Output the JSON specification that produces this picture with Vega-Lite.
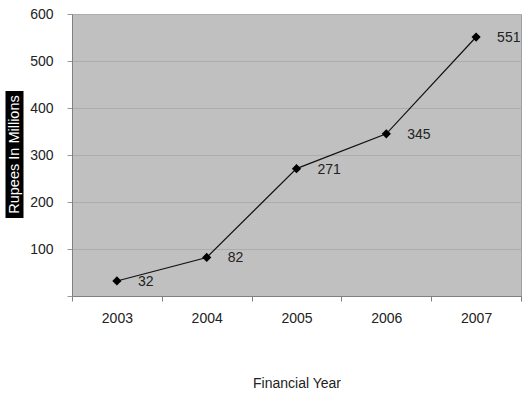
{
  "$schema": "https://vega.github.io/schema/vega-lite/v6.json",
  "width": 449,
  "height": 282,
  "autosize": "none",
  "padding": {"left": 72, "top": 14, "right": 2, "bottom": 101},
  "background": "white",
  "config": {
    "font": "Liberation Sans",
    "view": {"fill": "#c0c0c0", "stroke": "#a0a0a0", "strokeWidth": 1}
  },
  "data": {
    "values": [
      {"year": "2003", "value": 32},
      {"year": "2004", "value": 82},
      {"year": "2005", "value": 271},
      {"year": "2006", "value": 345},
      {"year": "2007", "value": 551}
    ]
  },
  "encoding": {
    "x": {
      "field": "year",
      "type": "ordinal",
      "scale": {"type": "band", "paddingInner": 0, "paddingOuter": 0},
      "axis": {
        "title": "Financial Year",
        "labelAngle": 0,
        "domainColor": "#808080",
        "tickColor": "#808080",
        "tickSize": 5,
        "tickBand": "extent",
        "labelPadding": 10,
        "labelFont": "Liberation Sans",
        "labelFontSize": 14,
        "labelColor": "#222222",
        "titleFont": "Liberation Sans",
        "titleFontSize": 14,
        "titleFontWeight": "normal",
        "titleColor": "#222222",
        "titleY": 87,
        "titleBaseline": "middle",
        "grid": false,
        "encode": {
          "ticks": {
            "update": {
              "opacity": {"signal": "(datum.value === '2005' || datum.value === '2007') && !datum.extra ? 1 : 0"}
            }
          }
        }
      }
    }
  },
  "layer": [
    {
      "mark": {"type": "line", "color": "#111111", "strokeWidth": 1.2},
      "encoding": {
        "y": {
          "field": "value",
          "type": "quantitative",
          "scale": {"domain": [0, 600], "nice": false},
          "axis": {
            "title": null,
            "values": [0, 100, 200, 300, 400, 500, 600],
            "labelExpr": "datum.value == 0 ? '' : datum.label",
            "domainColor": "#808080",
            "tickColor": "#9a9a9a",
            "tickSize": 5,
            "labelPadding": 14,
            "labelFont": "Liberation Sans",
            "labelFontSize": 14,
            "labelColor": "#222222",
            "grid": true,
            "gridColor": "#acacac",
            "zindex": 0,
            "encode": {
              "grid": {
                "update": {
                  "stroke": {"signal": "datum.value == 500 ? '#7a7a7a' : '#acacac'"}
                }
              },
              "ticks": {
                "update": {
                  "stroke": {"signal": "datum.value == 500 || datum.value == 0 ? '#7a7a7a' : '#9a9a9a'"}
                }
              }
            }
          }
        }
      }
    },
    {
      "mark": {"type": "point", "shape": "diamond", "filled": true, "size": 85, "color": "#000000", "opacity": 1},
      "encoding": {
        "y": {
          "field": "value",
          "type": "quantitative",
          "scale": {"domain": [0, 600], "nice": false},
          "axis": {
            "orient": "left",
            "offset": 49,
            "title": "Rupees In Millions",
            "values": [303],
            "labels": false,
            "domain": false,
            "grid": false,
            "ticks": true,
            "tickSize": 18,
            "tickWidth": 127,
            "tickColor": "#000000",
            "tickOpacity": 1,
            "tickCap": "butt",
            "titleFont": "Liberation Sans",
            "titleFontSize": 14.5,
            "titleFontWeight": "normal",
            "titleColor": "#ffffff",
            "titleAngle": -90,
            "titleAlign": "center",
            "titleBaseline": "middle",
            "titleX": -9,
            "titleY": 140,
            "zindex": 1
          }
        }
      }
    },
    {
      "mark": {"type": "text", "align": "left", "baseline": "middle", "dx": 21, "dy": 1, "fontSize": 14, "color": "#222222"},
      "encoding": {
        "y": {"field": "value", "type": "quantitative", "scale": {"domain": [0, 600], "nice": false}, "axis": null},
        "text": {"field": "value", "type": "quantitative"}
      }
    }
  ],
  "resolve": {"axis": {"y": "independent"}}
}
